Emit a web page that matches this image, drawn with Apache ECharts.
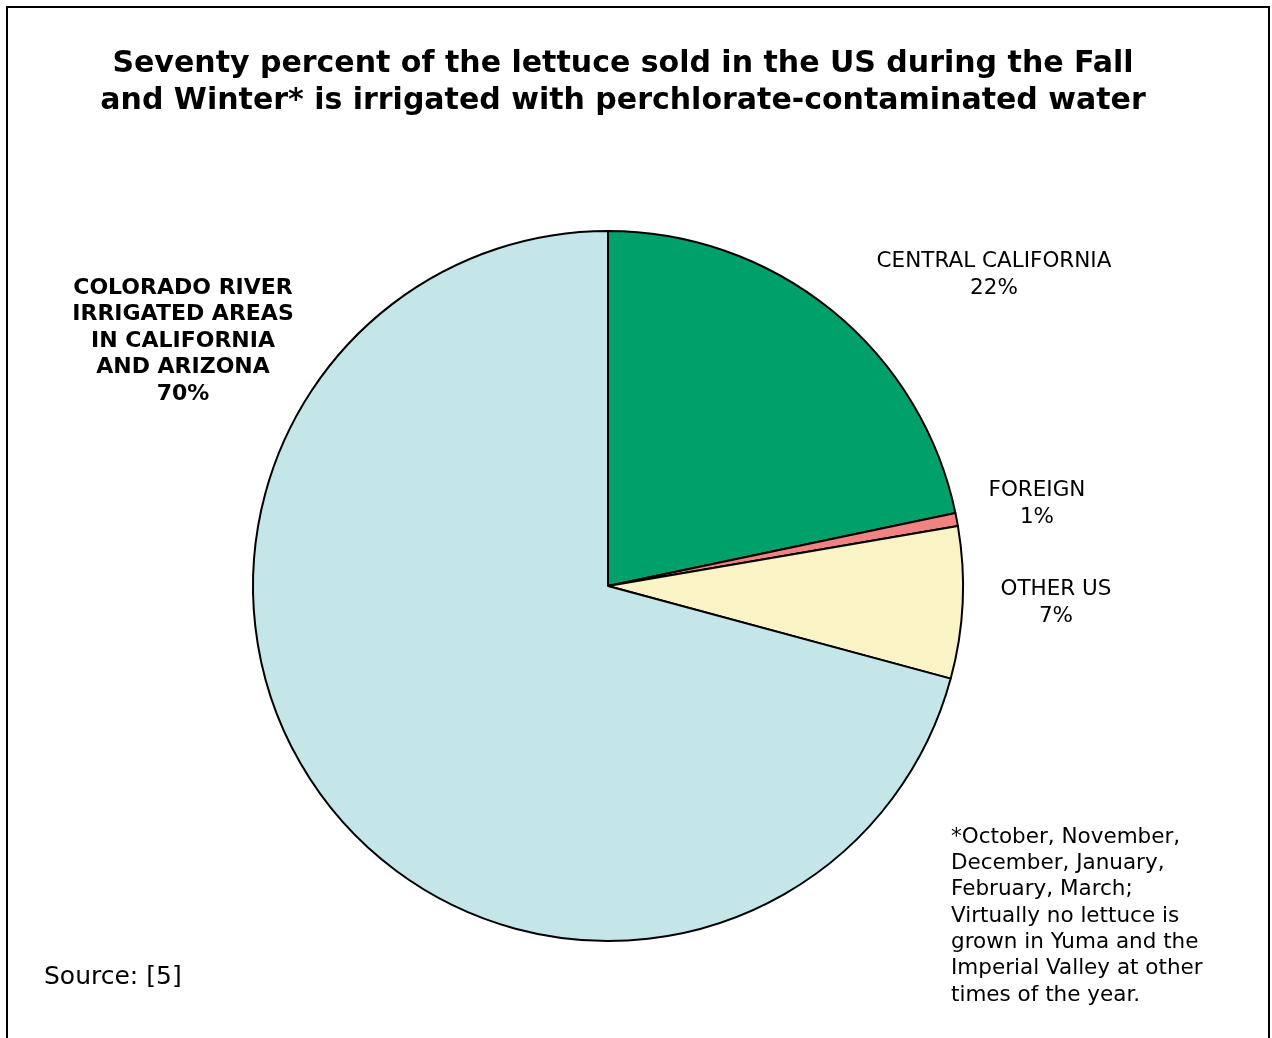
<!DOCTYPE html>
<html>
<head>
<meta charset="utf-8">
<script src="https://cdn.jsdelivr.net/npm/echarts@6/dist/echarts.min.js"></script>
<style>
html,body{margin:0;padding:0;background:#fff;}
#chart{width:1272px;height:1038px;}
</style>
</head>
<body>
<div id="chart"></div>
<script>
// Data
const categories = ['CENTRAL CALIFORNIA', 'FOREIGN', 'OTHER US', 'COLORADO RIVER\nIRRIGATED AREAS\nIN CALIFORNIA\nAND ARIZONA'];
const values = [21.7, 0.6, 6.9, 70.8];
const pctLabels = ['22%', '1%', '7%', '70%'];
const colors = ['#00A06A', '#F08282', '#F9F3C6', '#C5E6E9'];
const titleLines = ['Seventy percent of the lettuce sold in the US during the Fall', 'and Winter* is irrigated with perchlorate-contaminated water'];
const footnoteLines = ['*October, November,', 'December, January,', 'February, March;', 'Virtually no lettuce is', 'grown in Yuma and the', 'Imperial Valley at other', 'times of the year.'];
const sourceText = 'Source: [5]';

const labelPos = [[994, 275], [1037, 504], [1056, 603], [183, 341]];
const FONT = '"DejaVu Sans", Verdana, sans-serif';

const chart = echarts.init(document.getElementById('chart'));
chart.setOption({
  backgroundColor: '#fff',
  animation: false,
  title: {
    text: titleLines.join('\n'),
    left: 618, top: 41, textAlign: 'center',
    textStyle: {fontFamily: FONT, fontSize: 30, fontWeight: 'bold', color: '#000', lineHeight: 37}
  },
  graphic: [
    {type: 'rect', shape: {x: 7, y: 7, width: 1262, height: 1040}, style: {fill: 'none', stroke: '#000', lineWidth: 2}, silent: true},
    {type: 'text', left: 951, top: 824, style: {text: footnoteLines.join('\n'), font: '21.5px ' + FONT, fill: '#000', lineHeight: 26.3}},
    {type: 'text', left: 44, top: 965, style: {text: sourceText, font: '25px ' + FONT, fill: '#000'}}
  ],
  series: [{
    type: 'pie',
    center: [608, 586],
    radius: 355,
    startAngle: 90,
    clockwise: true,
    avoidLabelOverlap: false,
    itemStyle: {borderColor: '#000', borderWidth: 2},
    emphasis: {disabled: true},
    labelLine: {show: false},
    label: {
      show: true,
      position: 'outside',
      fontFamily: FONT,
      fontSize: 21.5,
      color: '#000',
      lineHeight: 26.5,
      align: 'center',
      formatter: p => p.name + '\n' + pctLabels[p.dataIndex]
    },
    labelLayout: p => ({x: labelPos[p.dataIndex][0], y: labelPos[p.dataIndex][1], align: 'center', verticalAlign: 'middle'}),
    data: categories.map((c, i) => ({
      name: c, value: values[i],
      itemStyle: {color: colors[i]},
      label: i === 3 ? {fontWeight: 'bold', fontSize: 22} : {}
    }))
  }]
});
</script>
</body>
</html>
